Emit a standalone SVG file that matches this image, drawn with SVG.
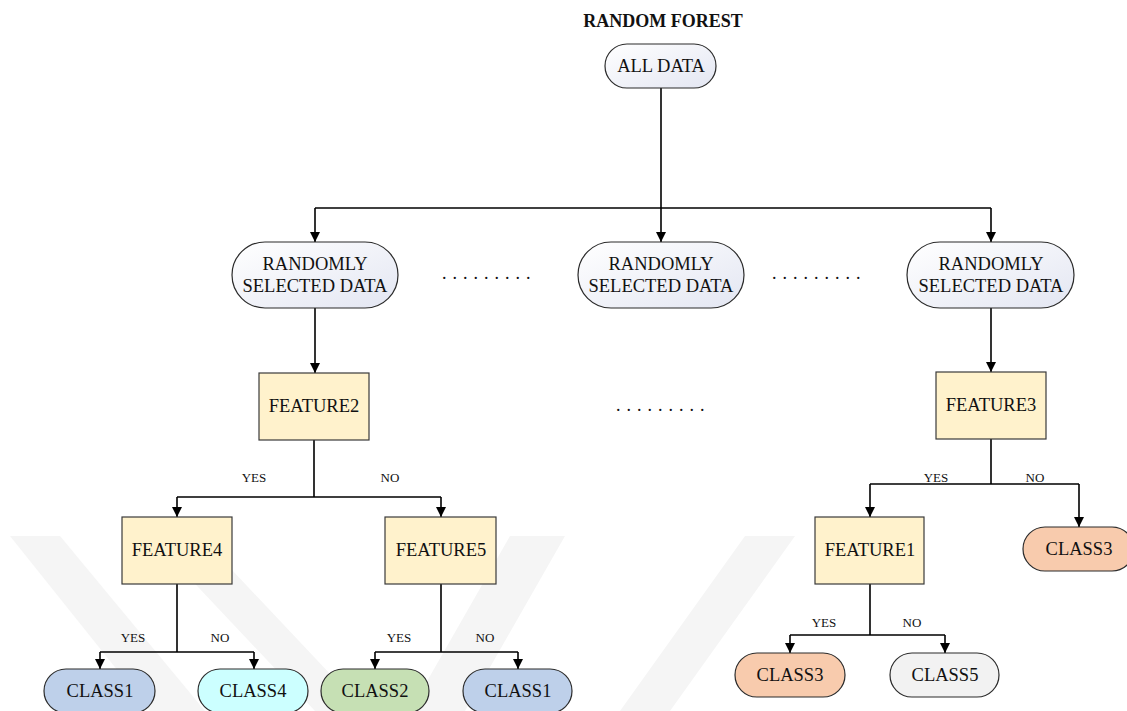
<svg xmlns="http://www.w3.org/2000/svg" width="1127" height="711" viewBox="0 0 1127 711">
<style>
text{font-family:"Liberation Serif","Times New Roman",serif;fill:#111;}
.t{font-size:18.5px;text-anchor:middle;}
.l{font-size:13px;text-anchor:middle;}
.title{font-size:18px;font-weight:bold;text-anchor:middle;}
.dots{font-size:18px;letter-spacing:6px;}
.pill{stroke:#2b2b2b;stroke-width:1.2;fill:url(#g)}
.feat{fill:#fff2cc;stroke:#3a3a3a;stroke-width:1.2}
.cls{stroke:#2b2b2b;stroke-width:1.2}
.wm{fill:#f5f5f5}
#conn path{fill:none;stroke:#000;stroke-width:1.6}
</style>
<defs>
<linearGradient id="g" x1="0" y1="0" x2="1" y2="1">
<stop offset="0" stop-color="#ffffff"/>
<stop offset="1" stop-color="#e3e6f2"/>
</linearGradient>
<marker id="ar" viewBox="0 0 10 10" refX="10" refY="5" markerWidth="10" markerHeight="10" markerUnits="userSpaceOnUse" orient="auto">
<path d="M0,0 L10,5 L0,10 Z" fill="#000"/>
</marker>
</defs>
<rect width="1127" height="711" fill="#fff"/>
<g id="watermark">
<polygon class="wm" points="10,536 60,536 205,711 150,711"/>
<polygon class="wm" points="150,536 200,536 365,711 315,711"/>
<polygon class="wm" points="510,536 565,536 465,711 410,711"/>
<polygon class="wm" points="745,536 795,536 670,711 620,711"/>
</g>
<text class="title" x="663" y="27">RANDOM FOREST</text>
<g id="conn">
<path d="M661,88 V208"/>
<path d="M315,208 H991"/>
<path d="M315,208 V242" marker-end="url(#ar)"/>
<path d="M661,208 V242" marker-end="url(#ar)"/>
<path d="M991,208 V242" marker-end="url(#ar)"/>
<path d="M315,308 V373" marker-end="url(#ar)"/>
<path d="M314,440 V497 M177,497 H441"/>
<path d="M177,497 V517" marker-end="url(#ar)"/>
<path d="M441,497 V517" marker-end="url(#ar)"/>
<path d="M991,308 V372" marker-end="url(#ar)"/>
<path d="M991,439 V484 M870,484 H1079"/>
<path d="M870,484 V517" marker-end="url(#ar)"/>
<path d="M1079,484 V527" marker-end="url(#ar)"/>
<path d="M177,584 V652 M100,652 H254"/>
<path d="M100,652 V669" marker-end="url(#ar)"/>
<path d="M254,652 V669" marker-end="url(#ar)"/>
<path d="M441,584 V652 M375,652 H518"/>
<path d="M375,652 V669" marker-end="url(#ar)"/>
<path d="M518,652 V669" marker-end="url(#ar)"/>
<path d="M870,584 V635 M790,635 H945"/>
<path d="M790,635 V653" marker-end="url(#ar)"/>
<path d="M945,635 V653" marker-end="url(#ar)"/>
</g>
<g id="labels">
<text class="l" x="254" y="482">YES</text>
<text class="l" x="390" y="482">NO</text>
<text class="l" x="936" y="482">YES</text>
<text class="l" x="1035" y="482">NO</text>
<text class="l" x="133" y="642">YES</text>
<text class="l" x="220" y="642">NO</text>
<text class="l" x="399" y="642">YES</text>
<text class="l" x="485" y="642">NO</text>
<text class="l" x="824" y="627">YES</text>
<text class="l" x="912" y="627">NO</text>
</g>
<g id="dots">
<text class="dots" x="442" y="279">.........</text>
<text class="dots" x="772" y="279">.........</text>
<text class="dots" x="616" y="411">.........</text>
</g>
<g id="n-all"><rect class="pill" x="605" y="44" width="111" height="44" rx="22"/><text class="t" x="661" y="72">ALL DATA</text></g>
<g id="n-rsd1"><rect class="pill" x="232" y="242" width="166" height="66" rx="33"/><text class="t" x="315" y="270">RANDOMLY</text><text class="t" x="315" y="292">SELECTED DATA</text></g>
<g id="n-rsd2"><rect class="pill" x="578" y="242" width="166" height="66" rx="33"/><text class="t" x="661" y="270">RANDOMLY</text><text class="t" x="661" y="292">SELECTED DATA</text></g>
<g id="n-rsd3"><rect class="pill" x="907" y="242" width="167" height="66" rx="33"/><text class="t" x="991" y="270">RANDOMLY</text><text class="t" x="991" y="292">SELECTED DATA</text></g>
<g id="n-f2"><rect class="feat" x="259" y="373" width="110" height="67"/><text class="t" x="314" y="412">FEATURE2</text></g>
<g id="n-f3"><rect class="feat" x="936" y="372" width="110" height="67"/><text class="t" x="991" y="411">FEATURE3</text></g>
<g id="n-f4"><rect class="feat" x="122" y="517" width="110" height="67"/><text class="t" x="177" y="556">FEATURE4</text></g>
<g id="n-f5"><rect class="feat" x="385" y="517" width="111" height="67"/><text class="t" x="441" y="556">FEATURE5</text></g>
<g id="n-f1"><rect class="feat" x="815" y="517" width="109" height="67"/><text class="t" x="870" y="556">FEATURE1</text></g>
<g id="n-c3a"><rect class="cls" x="1023" y="527" width="111" height="44" rx="22" fill="#f8cbad"/><text class="t" x="1079" y="555">CLASS3</text></g>
<g id="n-c1a"><rect class="cls" x="44" y="669" width="111" height="44" rx="22" fill="#bed0ea"/><text class="t" x="100" y="697">CLASS1</text></g>
<g id="n-c4"><rect class="cls" x="198" y="669" width="110" height="44" rx="22" fill="#ccffff"/><text class="t" x="253" y="697">CLASS4</text></g>
<g id="n-c2"><rect class="cls" x="321" y="669" width="108" height="44" rx="22" fill="#c6e0b4"/><text class="t" x="375" y="697">CLASS2</text></g>
<g id="n-c1b"><rect class="cls" x="463" y="669" width="109" height="44" rx="22" fill="#bed0ea"/><text class="t" x="518" y="697">CLASS1</text></g>
<g id="n-c3b"><rect class="cls" x="735" y="653" width="110" height="44" rx="22" fill="#f8cbad"/><text class="t" x="790" y="681">CLASS3</text></g>
<g id="n-c5"><rect class="cls" x="890" y="653" width="109" height="44" rx="22" fill="#f2f2f2"/><text class="t" x="945" y="681">CLASS5</text></g>
</svg>
